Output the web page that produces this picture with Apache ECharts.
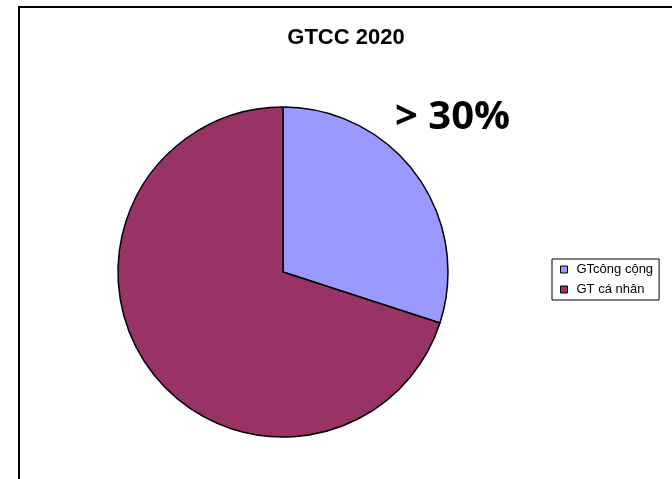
<!DOCTYPE html>
<html>
<head>
<meta charset="utf-8">
<style>
  html, body { margin: 0; padding: 0; background: #fff; }
  #chart { width: 672px; height: 479px; }
</style>
<script src="https://cdn.jsdelivr.net/npm/echarts@6/dist/echarts.min.js"></script>
</head>
<body>
<div id="chart"></div>
<script>
// Modal split of trips, 2020
const categories = ['GTcông cộng', 'GT cá nhân'];
const shares = [30, 70];
const colors = ['#9999FF', '#993366'];
const chartTitle = 'GTCC 2020';
const callout = '> 30%';

const chart = echarts.init(document.getElementById('chart'), null, { renderer: 'canvas' });

chart.setOption({
  animation: false,
  backgroundColor: '#ffffff',
  legend: {
    orient: 'vertical',
    left: 552,
    top: 259,
    padding: [4, 6, 4, 8],
    itemGap: 7,
    itemWidth: 7,
    itemHeight: 7,
    icon: 'rect',
    borderColor: '#000',
    borderWidth: 1,
    data: categories,
    textStyle: { fontFamily: 'Liberation Sans, Arial', fontSize: 13, color: '#000', padding: [0, 0, 0, 4] },
    itemStyle: { borderColor: '#000', borderWidth: 1 }
  },
  graphic: [
    {
      // chart area frame, open on the right and bottom edges
      type: 'rect',
      shape: { x: 19, y: 7, width: 700, height: 500 },
      style: { fill: 'none', stroke: '#000', lineWidth: 2 },
      silent: true
    },
    {
      type: 'text',
      x: 346,
      y: 27,
      style: {
        text: chartTitle,
        font: 'bold 22px "Liberation Sans", Arial, sans-serif',
        fill: '#000',
        align: 'center',
        verticalAlign: 'top'
      }
    },
    {
      type: 'text',
      x: 395,
      y: 98,
      style: {
        text: callout,
        font: 'bold 40px "Open Sans", "Noto Sans", sans-serif',
        fill: '#000',
        align: 'left',
        verticalAlign: 'top'
      }
    }
  ],
  series: [{
    type: 'pie',
    center: [283, 272],
    radius: 165,
    startAngle: 90,
    clockwise: true,
    label: { show: false },
    labelLine: { show: false },
    emphasis: { disabled: true },
    itemStyle: { borderColor: '#000', borderWidth: 1.5 },
    data: categories.map((name, i) => ({
      name,
      value: shares[i],
      itemStyle: { color: colors[i] }
    }))
  }]
});
</script>
</body>
</html>
